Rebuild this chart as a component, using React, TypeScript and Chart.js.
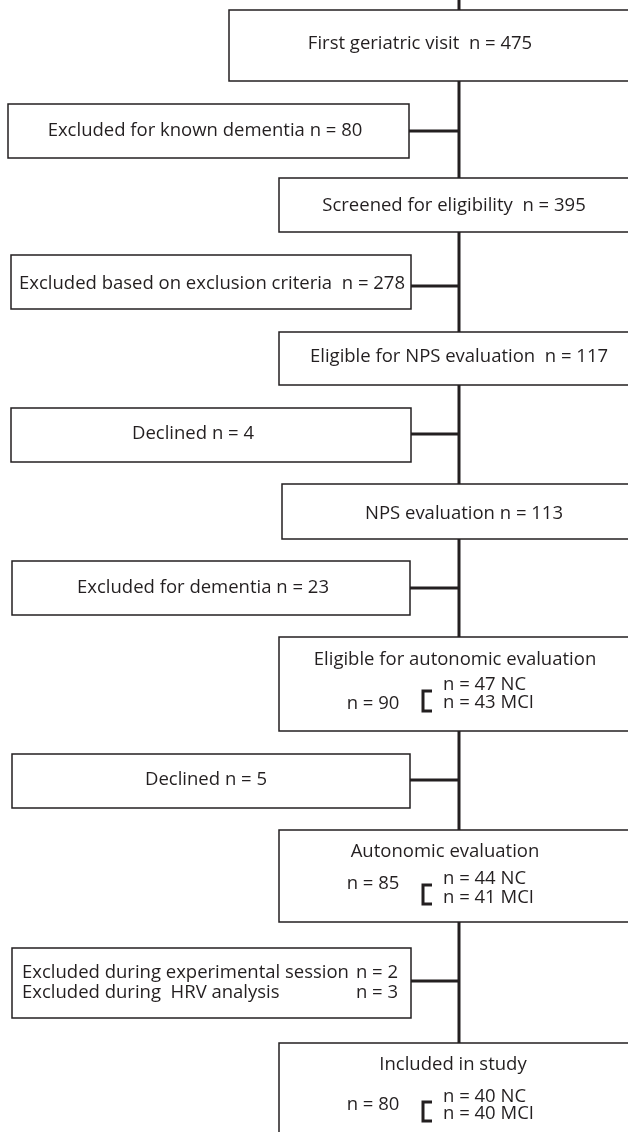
import React, { useEffect, useRef } from "react";
import { Chart, registerables } from "chart.js";

Chart.register(...registerables);

// Flow boxes (data space: x 0..628, y 0..1132, y downward)
const boxLeft = [229, 8, 279, 11, 279, 11, 282, 12, 279, 12, 279, 12, 279];
const boxRight = [660, 409, 660, 411, 660, 411, 660, 410, 660, 410, 660, 411, 660];
const boxTop = [10, 104, 178, 255, 332, 408, 484, 561, 637, 754, 830, 948, 1043];
const boxBottom = [81, 158, 232, 309, 385, 462, 539, 615, 731, 808, 922, 1018, 1160];

// Main trunk
const trunkX = 459;
const trunkY = [0, 1132];

// Side connectors (from exclusion boxes to trunk)
const connectorFromBox = [1, 3, 5, 7, 9, 11];
const connectorY = [131, 286, 434, 588, 780, 981];

// Single centered labels
const labelText = [
  "First geriatric visit  n = 475",
  "Excluded for known dementia n = 80",
  "Screened for eligibility  n = 395",
  "Excluded based on exclusion criteria  n = 278",
  "Eligible for NPS evaluation  n = 117",
  "Declined n = 4",
  "NPS evaluation n = 113",
  "Excluded for dementia n = 23",
  "Eligible for autonomic evaluation",
  "Declined n = 5",
  "Autonomic evaluation",
  "Included in study",
];
const labelX = [420, 205, 454, 212, 459, 193, 464, 203, 455, 206, 445, 453];
const labelY = [44, 131, 206, 284, 357, 434, 514, 588, 660, 780, 852, 1065];

// Two-column exclusion lines
const splitLeftText = ["Excluded during experimental session", "Excluded during  HRV analysis"];
const splitRightText = ["n = 2", "n = 3"];
const splitLeftX = 22;
const splitRightX = 398;
const splitY = [973, 993];

// Group totals with bracket and NC / MCI breakdown
const groupTotal = ["n = 90", "n = 85", "n = 80"];
const groupNC = ["n = 47 NC", "n = 44 NC", "n = 40 NC"];
const groupMCI = ["n = 43 MCI", "n = 41 MCI", "n = 40 MCI"];
const groupTotalX = 373;
const groupTotalY = [704, 884, 1105];
const groupRowX = 443;
const groupNCY = [685, 879, 1097];
const groupMCIY = [703, 898, 1114];
const bracketX = [423, 432];
const bracketTop = [691, 885, 1102];
const bracketBottom = [711, 904, 1121];

const FONT = '18.5px "Open Sans", "Noto Sans", sans-serif';
const INK = "#231f20";

const flowPlugin = {
  id: "flow",
  afterDraw(chart: any) {
    const { ctx } = chart;
    const xs = chart.scales.x;
    const ys = chart.scales.y;
    const px = (v: number) => xs.getPixelForValue(v);
    const py = (v: number) => ys.getPixelForValue(v);
    ctx.save();
    ctx.strokeStyle = INK;
    ctx.lineCap = "butt";

    // trunk
    ctx.lineWidth = 3;
    ctx.beginPath();
    ctx.moveTo(px(trunkX), py(trunkY[0]));
    ctx.lineTo(px(trunkX), py(trunkY[1]));
    ctx.stroke();

    // connectors
    connectorFromBox.forEach((b, i) => {
      ctx.beginPath();
      ctx.moveTo(px(boxRight[b]), py(connectorY[i]));
      ctx.lineTo(px(trunkX), py(connectorY[i]));
      ctx.stroke();
    });

    // boxes
    ctx.lineWidth = 1.5;
    boxLeft.forEach((l, i) => {
      const x0 = px(l), x1 = px(boxRight[i]);
      const y0 = py(boxTop[i]), y1 = py(boxBottom[i]);
      ctx.fillStyle = "#ffffff";
      ctx.fillRect(x0, y0, x1 - x0, y1 - y0);
      ctx.strokeRect(x0, y0, x1 - x0, y1 - y0);
    });

    // labels
    ctx.fillStyle = INK;
    ctx.font = FONT;
    ctx.textBaseline = "middle";
    ctx.textAlign = "center";
    labelText.forEach((t, i) => ctx.fillText(t, px(labelX[i]), py(labelY[i])));

    ctx.textAlign = "left";
    splitLeftText.forEach((t, i) => ctx.fillText(t, px(splitLeftX), py(splitY[i])));
    ctx.textAlign = "right";
    splitRightText.forEach((t, i) => ctx.fillText(t, px(splitRightX), py(splitY[i])));

    groupTotal.forEach((t, i) => {
      ctx.textAlign = "center";
      ctx.fillText(t, px(groupTotalX), py(groupTotalY[i]));
      ctx.textAlign = "left";
      ctx.fillText(groupNC[i], px(groupRowX), py(groupNCY[i]));
      ctx.fillText(groupMCI[i], px(groupRowX), py(groupMCIY[i]));
      // bracket
      ctx.lineWidth = 3;
      ctx.beginPath();
      ctx.moveTo(px(bracketX[1]), py(bracketTop[i]));
      ctx.lineTo(px(bracketX[0]), py(bracketTop[i]));
      ctx.lineTo(px(bracketX[0]), py(bracketBottom[i]));
      ctx.lineTo(px(bracketX[1]), py(bracketBottom[i]));
      ctx.stroke();
    });
    ctx.restore();
  },
};

export default function App() {
  const ref = useRef<HTMLCanvasElement | null>(null);
  useEffect(() => {
    document.body.style.margin = "0";
    const canvas = ref.current;
    if (!canvas) return;
    const chart = new Chart(canvas, {
      type: "scatter",
      data: { datasets: [] },
      options: {
        responsive: false,
        maintainAspectRatio: false,
        animation: false,
        events: [],
        layout: { padding: 0 },
        plugins: { legend: { display: false }, tooltip: { enabled: false } },
        scales: {
          x: { type: "linear", min: 0, max: 628, display: false },
          y: { type: "linear", min: 0, max: 1132, reverse: true, display: false },
        },
      },
      plugins: [flowPlugin],
    });
    return () => chart.destroy();
  }, []);
  return (
    <div style={{ width: 628, height: 1132, background: "#fff" }}>
      <canvas ref={ref} width={628} height={1132} style={{ display: "block" }} />
    </div>
  );
}
